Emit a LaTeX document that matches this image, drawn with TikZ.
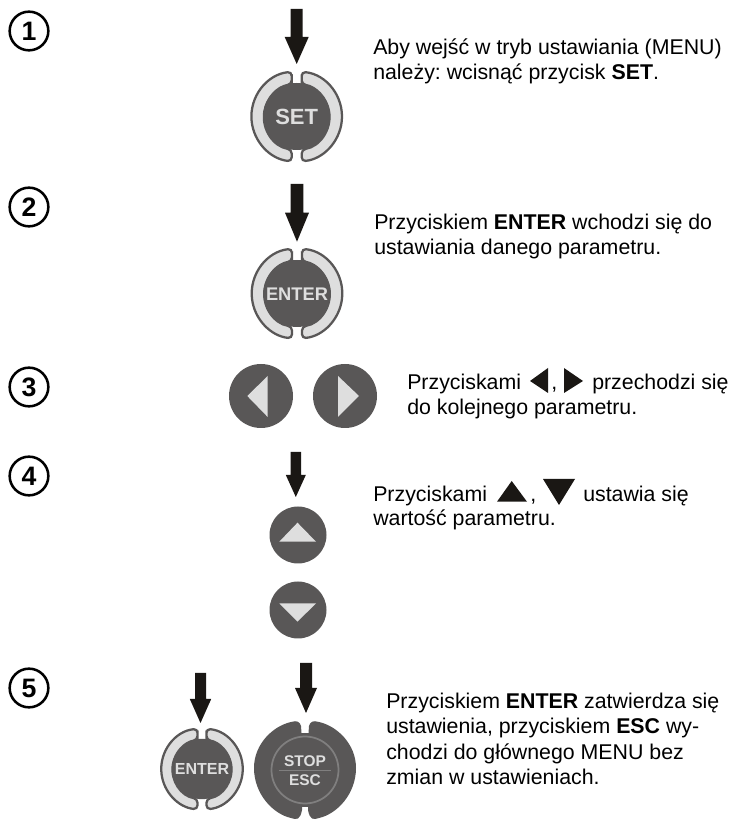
\documentclass[tikz,border=0pt]{standalone}
\usepackage{fontspec}
\setmainfont{Liberation Sans}
\frenchspacing
\definecolor{btn}{HTML}{595757}
\definecolor{lite}{HTML}{DEDEDE}
\definecolor{arr}{HTML}{1A1714}
\definecolor{rng}{HTML}{807F7F}
\tikzset{
 x=.75pt,y=.75pt,
 numbadge/.style={circle,draw=black,line width=1.9pt,minimum size=29pt,inner sep=0pt,font=\fontsize{20}{20}\selectfont\bfseries},
 body/.style={anchor=base west,inner sep=0pt,font=\fontsize{16}{19}\selectfont,text=black},
 btncap/.style={text=lite,inner sep=0pt},
 cres/.style={fill=lite,draw=btn,line width=1.7pt,rounded corners=3pt},
 dark/.style={fill=btn,draw=none},
 inltri/.style={fill=arr,draw=none},
}
% arrow: x centre, top y, shoulder y, tip y, shaft half, head half
\newcommand{\downarr}[6]{\fill[arr] (#1-#5,#2) -- (#1+#5,#2) -- (#1+#5,#3) -- (#1+#6,#3) -- (#1,#4) -- (#1-#6,#3) -- (#1-#5,#3) -- cycle;}
% ring button: centre x, centre y, scale
\newcommand{\ringbtn}[3]{\begin{scope}[shift={(#1,#2)},scale=#3]
 \draw[cres] (5,33) -- (5,44.7) arc (84:-84:45) -- (5,-33) arc (-81:81:33) -- cycle;
 \draw[cres] (-5,33) -- (-5,44.7) arc (96:264:45) -- (-5,-33) arc (261:99:33) -- cycle;
 \fill[dark] (0,0) circle (33.5);
\end{scope}}
\begin{document}
\begin{tikzpicture}
\useasboundingbox (0,0) rectangle (731,819);
% number badges
\node[numbadge] (n1) at (29,788) {1};
\node[numbadge] (n2) at (29,612) {2};
\node[numbadge] (n3) at (29,432) {3};
\node[numbadge] (n4) at (29,343) {4};
\node[numbadge] (n5) at (29,131) {5};
% step 1
\downarr{296.7}{810}{782}{755}{6}{12}
\ringbtn{296.7}{702.5}{1}
\node[btncap,font=\fontsize{16.5}{16}\selectfont\bfseries] (set) at (296.7,702) {SET};
\node[body] (t1a) at (373,764) {Aby wejść w tryb ustawiania (MENU)};
\node[body] (t1b) at (373,739) {należy: wcisnąć przycisk \textbf{SET}.};
% step 2
\downarr{297}{635}{606.3}{577.3}{6.3}{12}
\ringbtn{297}{525.5}{1}
\node[btncap,font=\fontsize{13.7}{14}\selectfont\bfseries] (ent) at (297,525) {ENTER};
\node[body] (t2a) at (374,589) {Przyciskiem \textbf{ENTER} wchodzi się do};
\node[body] (t2b) at (374,564) {ustawiania danego parametru.};
% step 3
\fill[dark] (261,423) circle (32);
\fill[lite] (247.3,423) -- (267.7,443) -- (267.7,402) -- cycle;
\fill[dark] (345,423) circle (32);
\fill[lite] (359,423) -- (338,443) -- (338,402) -- cycle;
\node[body] (t3a) at (407,429) {Przyciskami};
\fill[inltri] (530,438) -- (548,451) -- (548,426) -- cycle;
\node[body] (t3b) at (551,429) {,};
\fill[inltri] (564,451) -- (564,426) -- (583,438) -- cycle;
\node[body] (t3c) at (592,429) {przechodzi się};
\node[body] (t3d) at (407,404) {do kolejnego parametru.};
% step 4
\downarr{295.8}{367}{344}{322}{5.2}{10}
\fill[dark] (298,284) circle (28.5);
\fill[lite] (297.5,296.3) -- (316,277.3) -- (279.3,277.3) -- cycle;
\fill[dark] (298,209) circle (28.5);
\fill[lite] (297.5,197.3) -- (316,215.7) -- (279.3,215.7) -- cycle;
\node[body] (t4a) at (373,317.3) {Przyciskami};
\fill[inltri] (497,317.3) -- (527,317.3) -- (511.7,338) -- cycle;
\node[body] (t4b) at (530,317.3) {,};
\fill[inltri] (543,340) -- (575,340) -- (559,314) -- cycle;
\node[body] (t4c) at (583,317.3) {ustawia się};
\node[body] (t4d) at (373,293.3) {wartość parametru.};
% step 5
\downarr{200.5}{146}{120}{96}{5.5}{10.7}
\ringbtn{202}{50}{.9}
\node[btncap,font=\fontsize{12}{12}\selectfont\bfseries] (ent2) at (202,50) {ENTER};
\downarr{306}{156}{131}{106}{6}{11}
\begin{scope}[shift={(305,49)}]
 \fill[dark] (3,30) -- (4,44) .. controls (5,48) and (8,50) .. (14,48) .. controls (32,44) and (51,26) .. (51,2) .. controls (51,-24) and (32,-44) .. (14,-48) .. controls (8,-50) and (5,-50) .. (3,-40) -- (3,-30) -- cycle;
 \fill[dark] (-3,30) -- (-4,44) .. controls (-5,48) and (-8,50) .. (-14,48) .. controls (-32,44) and (-51,26) .. (-51,2) .. controls (-51,-24) and (-32,-44) .. (-14,-48) .. controls (-8,-50) and (-5,-50) .. (-3,-40) -- (-3,-30) -- cycle;
 \fill[dark] (0,0) circle (37);
 \draw[rng,line width=1.3pt] (0,0) circle (33.5);
 \draw[rng,line width=.7pt] (-26,0) -- (26,0);
\end{scope}
\node[btncap,font=\fontsize{11.6}{12}\selectfont\bfseries] (stop) at (305,58) {STOP};
\node[btncap,font=\fontsize{11.6}{12}\selectfont\bfseries] (esc) at (305,39) {ESC};
\node[body] (t5a) at (386,110) {Przyciskiem \textbf{ENTER} zatwierdza się};
\node[body] (t5b) at (386,85) {ustawienia, przyciskiem \textbf{ESC} wy-};
\node[body] (t5c) at (386,60) {chodzi do głównego MENU bez};
\node[body] (t5d) at (386,35) {zmian w ustawieniach.};
\end{tikzpicture}
\end{document}
